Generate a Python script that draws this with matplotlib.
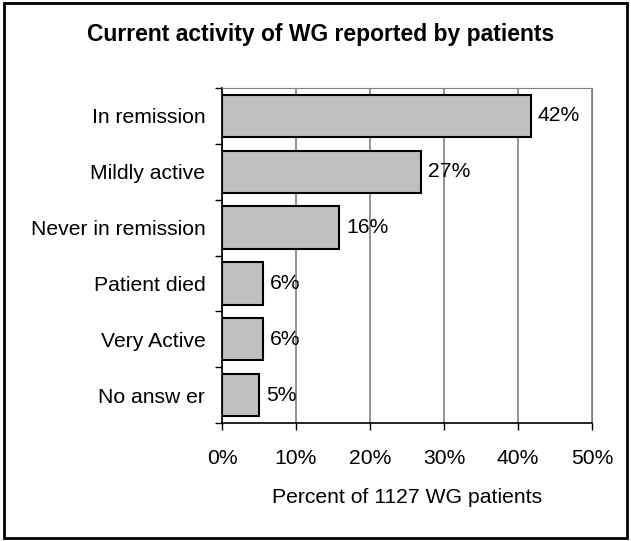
import matplotlib
matplotlib.use("Agg")
import matplotlib.pyplot as plt
from matplotlib.patches import Rectangle

# Dados
categories = ["In remission", "Mildly active", "Never in remission",
              "Patient died", "Very Active", "No answ er"]
values = [41.7, 26.9, 15.8, 5.5, 5.5, 5.0]
labels = ["42%", "27%", "16%", "6%", "6%", "5%"]
xticks = [0, 10, 20, 30, 40, 50]

plt.rcParams["font.family"] = ["Liberation Sans", "DejaVu Sans"]

fig = plt.figure(figsize=(6.31, 5.41), dpi=100)
ax = fig.add_axes([222/631, 1-423/541, 370/631, 335/541])

y = list(range(len(categories)))[::-1]
ax.barh(y, values, height=0.76, color="#c0c0c0", edgecolor="black", lw=1.5, zorder=3)
for yi, v, t in zip(y, values, labels):
    ax.text(v + 1.0, yi, t, va="center", ha="left", fontsize=15.2, zorder=4)

ax.set_xlim(0, 50); ax.set_ylim(-0.5, len(categories) - 0.5)
ax.set_xticks(xticks); ax.set_xticklabels([f"{x}%" for x in xticks], fontsize=15.2)
ax.set_yticks([i - 0.5 for i in range(len(categories) + 1)], minor=False)
ax.set_yticklabels([])
ax.set_yticks(y, minor=True)
ax.set_yticklabels(categories, minor=True, fontsize=15.2)
ax.tick_params(axis="y", which="minor", length=0, pad=12)
ax.tick_params(axis="y", which="major", length=5, width=1, direction="out")
ax.tick_params(axis="x", length=5, width=1, direction="out", pad=14)
ax.xaxis.grid(True, color="#808080", lw=1.2, zorder=0)
for s in ["top", "right"]:
    ax.spines[s].set_color("#808080")
for s in ["left", "bottom"]:
    ax.spines[s].set_color("black"); ax.spines[s].set_linewidth(1.2)
ax.set_xlabel("Percent of 1127 WG patients", fontsize=15.2, labelpad=14)

fig.text(321/631, 1-35/541, "Current activity of WG reported by patients",
         ha="center", va="center", fontsize=16.5, fontweight="bold")
fig.patches.append(Rectangle((4/631, 3/541), 623/631, 535/541, transform=fig.transFigure,
                             fill=False, ec="black", lw=2))

fig.savefig("out.png", dpi=100)
